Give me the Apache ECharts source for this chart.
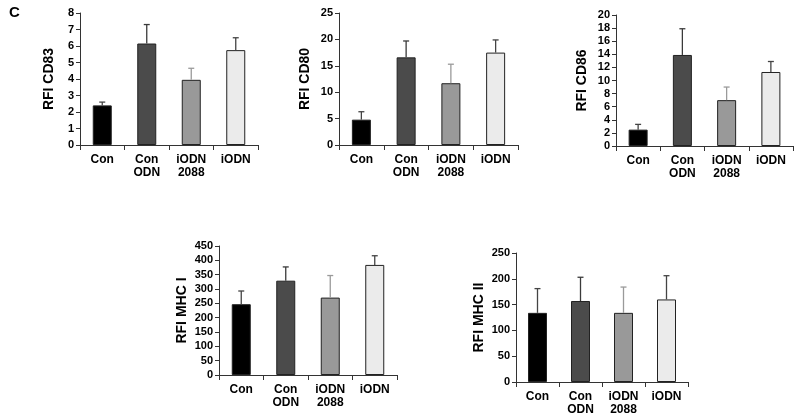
<!DOCTYPE html>
<html><head><meta charset="utf-8">
<script src="https://cdn.jsdelivr.net/npm/echarts@6/dist/echarts.min.js"></script>
<style>html,body{margin:0;padding:0;background:#fff}#c{width:800px;height:419px}</style>
</head><body><div id="c"></div>
<script>
var categories = ['Con', 'Con\nODN', 'iODN\n2088', 'iODN'];
var barColors = ['#000000', '#4b4b4b', '#999999', '#ebebeb'];
var errColors = ['#444444', '#3a3a3a', '#9a9a9a', '#444444'];

var cd83Mean = [2.4, 6.15, 3.95, 5.75];
var cd83Err  = [0.2, 1.15, 0.7, 0.75];
var cd80Mean = [4.8, 16.6, 11.7, 17.5];
var cd80Err  = [1.5, 3.1, 3.6, 2.4];
var cd86Mean = [2.5, 13.9, 7.0, 11.3];
var cd86Err  = [0.8, 4.0, 2.0, 1.6];
var mhc1Mean = [247, 329, 270, 384];
var mhc1Err  = [46, 48, 77, 32];
var mhc2Mean = [134, 157, 134, 160];
var mhc2Err  = [47, 46, 50, 46];

var panels = [
  {name: 'RFI CD83', mean: cd83Mean, err: cd83Err, max: 8, interval: 1, grid: {left: 80, top: 13, width: 178, height: 132}, gap: 24},
  {name: 'RFI CD80', mean: cd80Mean, err: cd80Err, max: 25, interval: 5, grid: {left: 339, top: 13, width: 179, height: 132}, gap: 27},
  {name: 'RFI CD86', mean: cd86Mean, err: cd86Err, max: 20, interval: 2, grid: {left: 616, top: 15, width: 177, height: 131}, gap: 27},
  {name: 'RFI MHC I', mean: mhc1Mean, err: mhc1Err, max: 450, interval: 50, grid: {left: 219, top: 246, width: 178, height: 129}, gap: 30},
  {name: 'RFI MHC II', mean: mhc2Mean, err: mhc2Err, max: 250, interval: 50, grid: {left: 516, top: 253, width: 172, height: 129}, gap: 30}
];

var font = 'Liberation Sans, Arial, sans-serif';
var grids = [], xAxes = [], yAxes = [], series = [];
panels.forEach(function (p, i) {
  grids.push(p.grid);
  xAxes.push({
    type: 'category', gridIndex: i, data: categories,
    axisLine: {lineStyle: {color: '#333', width: 1}},
    axisTick: {show: true, length: 5, lineStyle: {color: '#333'}},
    axisLabel: {color: '#000', fontFamily: font, fontWeight: 'bold', fontSize: 12, lineHeight: 13, margin: 8, interval: 0}
  });
  yAxes.push({
    type: 'value', gridIndex: i, min: 0, max: p.max, interval: p.interval,
    name: p.name, nameLocation: 'middle', nameGap: p.gap, nameRotate: 90,
    nameTextStyle: {color: '#000', fontFamily: font, fontWeight: 'bold', fontSize: 14},
    axisLine: {show: true, lineStyle: {color: '#333', width: 1}},
    axisTick: {show: true, length: 4, lineStyle: {color: '#333'}},
    splitLine: {show: false},
    axisLabel: {color: '#000', fontFamily: font, fontWeight: 'bold', fontSize: 11, margin: 6}
  });
  series.push({
    type: 'bar', xAxisIndex: i, yAxisIndex: i, barWidth: 19,
    data: p.mean.map(function (v, k) {
      return {value: v, itemStyle: {color: barColors[k], borderColor: '#222', borderWidth: 1}};
    }),
    z: 2
  });
  series.push({
    type: 'custom', xAxisIndex: i, yAxisIndex: i, z: 3,
    data: p.mean.map(function (v, k) { return [k, v, v + p.err[k]]; }),
    renderItem: function (params, api) {
      var b = api.coord([api.value(0), api.value(1)]);
      var t = api.coord([api.value(0), api.value(2)]);
      var col = errColors[api.value(0)];
      var hw = 3;
      return {type: 'group', children: [
        {type: 'line', shape: {x1: b[0], y1: b[1], x2: t[0], y2: t[1]}, style: {stroke: col, lineWidth: 1.3}},
        {type: 'line', shape: {x1: t[0] - hw, y1: t[1], x2: t[0] + hw, y2: t[1]}, style: {stroke: col, lineWidth: 1.3}}
      ]};
    }
  });
});

var chart = echarts.init(document.getElementById('c'));
chart.setOption({
  animation: false,
  backgroundColor: '#fff',
  grid: grids, xAxis: xAxes, yAxis: yAxes, series: series,
  graphic: [{type: 'text', left: 9, top: 5, style: {text: 'C', font: 'bold 15px Liberation Sans, Arial, sans-serif', fill: '#000'}}]
});
</script></body></html>
